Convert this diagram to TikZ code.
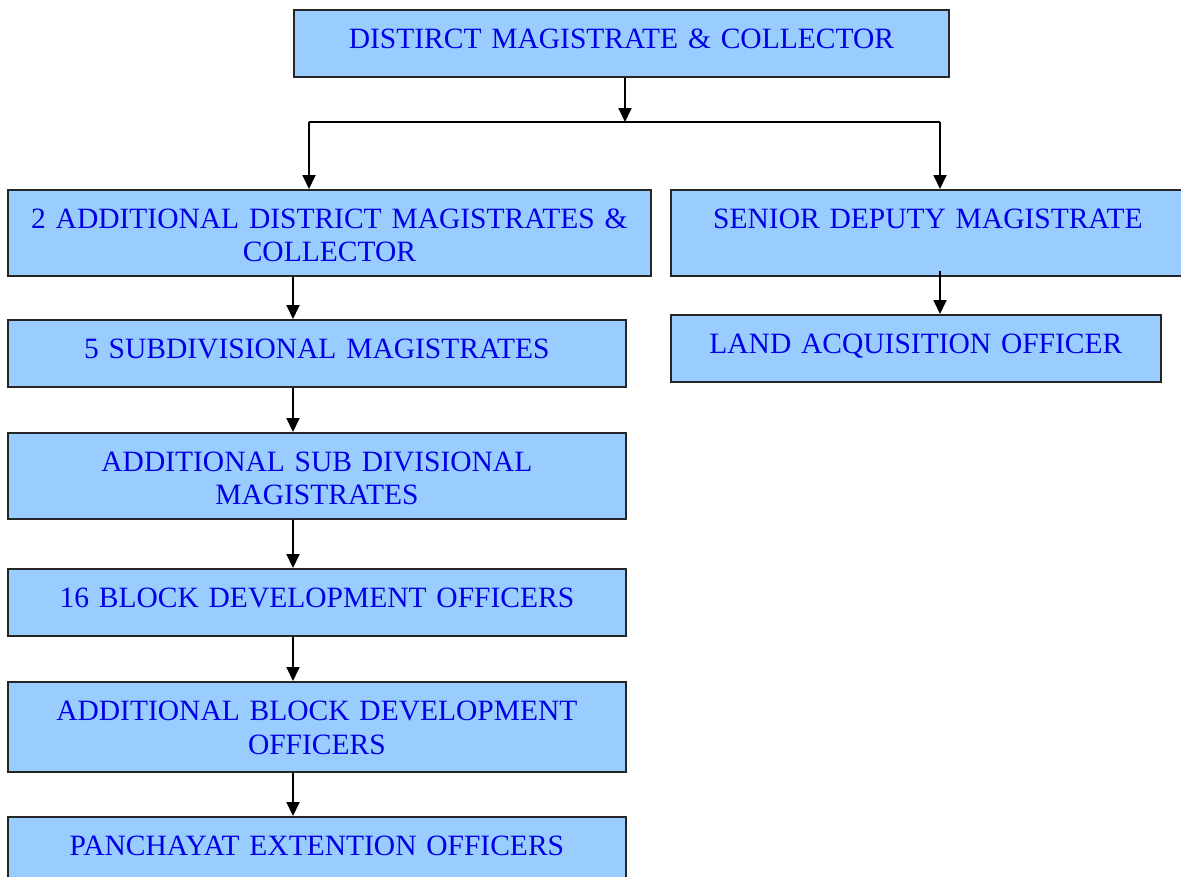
\documentclass[tikz,border=0pt]{standalone}
\usepackage{fontspec}
\setmainfont{Liberation Serif}
\usepackage{tikz}
\usetikzlibrary{positioning,arrows.meta}
\tikzstyle{chart} = [x = 1pt, y = -1pt]
\definecolor{boxFill}{RGB}{153,204,255}
\definecolor{boxText}{RGB}{0,0,230}
\tikzstyle{officeBox} = [draw=black!85, fill=boxFill, line width=1.8pt, anchor=north west, inner sep=0pt, align=center, text=boxText, font=\fontsize{29.5}{33}\selectfont, text height=39pt, text depth=28pt]
\tikzstyle{twoLine} = [text depth=47pt]
\tikzstyle{linkLine} = [color=black, line width=1.8pt]
\tikzstyle{link} = [linkLine, -{Triangle[length=14pt,width=13pt]}]
\newcommand{\office}[6][]{\node [officeBox, #1, text width=#5] (#2) at (#3,#4) {#6};}

\begin{document}
\begin{tikzpicture}[chart]
          \useasboundingbox (0,0) rectangle (1181,876);
          \office{dm}{293}{9}{655pt}{DISTIRCT MAGISTRATE \& COLLECTOR}
          \office[twoLine]{adm}{7}{189}{643pt}{2 ADDITIONAL DISTRICT MAGISTRATES \&\\COLLECTOR}
          \office[twoLine]{sdm}{670}{189}{514pt}{SENIOR DEPUTY MAGISTRATE}
          \office{lao}{670}{314}{490pt}{LAND ACQUISITION OFFICER}
          \office{subDiv}{7}{319}{618pt}{5 SUBDIVISIONAL MAGISTRATES}
          \office[twoLine]{addSubDiv}{7}{432}{618pt}{ADDITIONAL SUB DIVISIONAL\\MAGISTRATES}
          \office{bdo}{7}{568}{618pt}{16 BLOCK DEVELOPMENT OFFICERS}
          \office[text depth=51pt, font=\fontsize{29.5}{34}\selectfont]{addBdo}{7}{681}{618pt}{ADDITIONAL BLOCK DEVELOPMENT\\OFFICERS}
          \office{peo}{7}{816}{618pt}{PANCHAYAT EXTENTION OFFICERS}

          % split below the collector
          \coordinate (split) at (625,122);
          \coordinate (leftDrop) at (309,122);
          \coordinate (rightDrop) at (940,122);
          \draw [link] (dm.south -| split) -- (split);
          \draw [linkLine] (leftDrop) -- (rightDrop);
          \draw [link] (leftDrop) -- (leftDrop |- adm.north);
          \draw [link] (rightDrop) -- (rightDrop |- sdm.north);
          \draw [link] ([yshift=6pt]rightDrop |- sdm.south) -- (rightDrop |- lao.north);

          % left column
          \coordinate (spine) at (293,0);
          \foreach \upper/\lower in {adm/subDiv, subDiv/addSubDiv, addSubDiv/bdo, bdo/addBdo, addBdo/peo} {
            \draw [link] (spine |- \upper.south) -- (spine |- \lower.north);
          }
        \end{tikzpicture}
\end{document}
